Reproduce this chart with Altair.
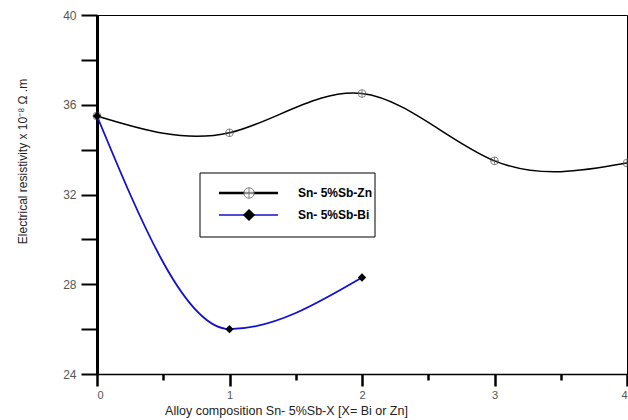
import altair as alt
import pandas as pd

# data
comp = [0, 1, 2, 3, 4]
zn_vals = [35.5, 34.75, 36.5, 33.5, 33.4]
bi_comp = [0, 1, 2]
bi_vals = [35.5, 26.0, 28.3]

zn = pd.DataFrame({"x": comp, "y": zn_vals})
bi = pd.DataFrame({"x": bi_comp, "y": bi_vals})

FONT = "Liberation Sans"
W, H = 530, 359

xscale = alt.Scale(domain=[0, 4], nice=False, zero=False)
yscale = alt.Scale(domain=[24, 40], nice=False, zero=False)

xax = alt.Axis(
    title="Alloy composition Sn- 5%Sb-X [X= Bi or Zn]",
    values=[0, 0.5, 1, 1.5, 2, 2.5, 3, 3.5, 4],
    labelExpr="datum.value % 1 === 0 ? format(datum.value, 'd') : ''",
    tickSize={"condition": {"test": "datum.value % 1 !== 0", "value": 6}, "value": 12},
    tickWidth=2.5, tickColor="black", domainColor="black", domainWidth=1.5,
    labelFont=FONT, labelFontSize=11, labelColor="#555", labelPadding=3,
    titleFont=FONT, titleFontSize=12.5, titleFontWeight="normal", titleColor="#222",
    titleX=189, titleY=30, titleAlign="center", grid=False,
)
yax = alt.Axis(
    title="Electrical resistivity x 10⁻⁸ Ω .m",
    values=[24, 26, 28, 30, 32, 34, 36, 38, 40],
    labelExpr="datum.value % 4 === 0 ? datum.label : ''",
    tickSize=16, tickWidth=2, tickColor="black", domainColor="black", domainWidth=3,
    labelFont=FONT, labelFontSize=12, labelColor="#555", labelPadding=5,
    titleFont=FONT, titleFontSize=12, titleFontWeight="normal", titleColor="#222",
    titleX=-75, titleY=146, titleAlign="center", titleBaseline="middle", grid=False,
)

enc_x = alt.X("x:Q", scale=xscale, axis=xax)
enc_y = alt.Y("y:Q", scale=yscale, axis=yax)

zn_line = alt.Chart(zn).mark_line(color="black", strokeWidth=1.5, interpolate="natural").encode(x=enc_x, y=enc_y)
bi_line = alt.Chart(bi).mark_line(color="#1010d0", strokeWidth=1.8, interpolate="monotone").encode(
    x=alt.X("x:Q", scale=xscale), y=alt.Y("y:Q", scale=yscale))
zn_circ = alt.Chart(zn).mark_point(shape="circle", filled=False, color="#555", size=60, strokeWidth=1).encode(
    x=alt.X("x:Q", scale=xscale), y=alt.Y("y:Q", scale=yscale))
zn_cross = alt.Chart(zn).mark_point(shape="M-1,0L1,0M0,-1L0,1", filled=False, color="#555", size=60, strokeWidth=1).encode(
    x=alt.X("x:Q", scale=xscale), y=alt.Y("y:Q", scale=yscale))
bi_pts = alt.Chart(bi).mark_point(shape="diamond", filled=True, color="black", size=70, opacity=1).encode(
    x=alt.X("x:Q", scale=xscale), y=alt.Y("y:Q", scale=yscale))

# legend (pixel positions)
one = pd.DataFrame({"a": [0]})
lg_box = alt.Chart(one).mark_rect(fill="white", stroke="black", strokeWidth=1).encode(
    x=alt.value(103), x2=alt.value(278), y=alt.value(158), y2=alt.value(222))
lg_zn_line = alt.Chart(one).mark_rule(color="black", strokeWidth=2.5).encode(
    x=alt.value(122), x2=alt.value(181), y=alt.value(178))
lg_bi_line = alt.Chart(one).mark_rule(color="#1010d0", strokeWidth=1.5).encode(
    x=alt.value(122), x2=alt.value(181), y=alt.value(200))
lg_zn_c = alt.Chart(one).mark_point(shape="circle", filled=True, fill="white", stroke="#555", size=110, strokeWidth=1).encode(
    x=alt.value(152), y=alt.value(178))
lg_zn_x = alt.Chart(one).mark_point(shape="M-1,0L1,0M0,-1L0,1", filled=False, color="#555", size=110, strokeWidth=1).encode(
    x=alt.value(152), y=alt.value(178))
lg_bi_d = alt.Chart(one).mark_point(shape="diamond", filled=True, color="black", size=150, opacity=1).encode(
    x=alt.value(152), y=alt.value(200))
lg_t1 = alt.Chart(one).mark_text(text="Sn- 5%Sb-Zn", font=FONT, fontSize=12, fontWeight="bold", align="left", baseline="middle").encode(
    x=alt.value(201), y=alt.value(178))
lg_t2 = alt.Chart(one).mark_text(text="Sn- 5%Sb-Bi", font=FONT, fontSize=12, fontWeight="bold", align="left", baseline="middle").encode(
    x=alt.value(201), y=alt.value(200))

chart = alt.layer(
    zn_line, bi_line, zn_circ, zn_cross, bi_pts,
    lg_box, lg_zn_line, lg_bi_line, lg_zn_c, lg_zn_x, lg_bi_d, lg_t1, lg_t2,
).properties(
    width=W, height=H,
    autosize=alt.AutoSizeParams(type="none"),
    padding={"left": 97, "top": 15, "right": 1, "bottom": 46},
).configure_view(stroke="black", strokeWidth=1)

chart.save("out.html", embed_options={"renderer": "svg", "actions": False})
